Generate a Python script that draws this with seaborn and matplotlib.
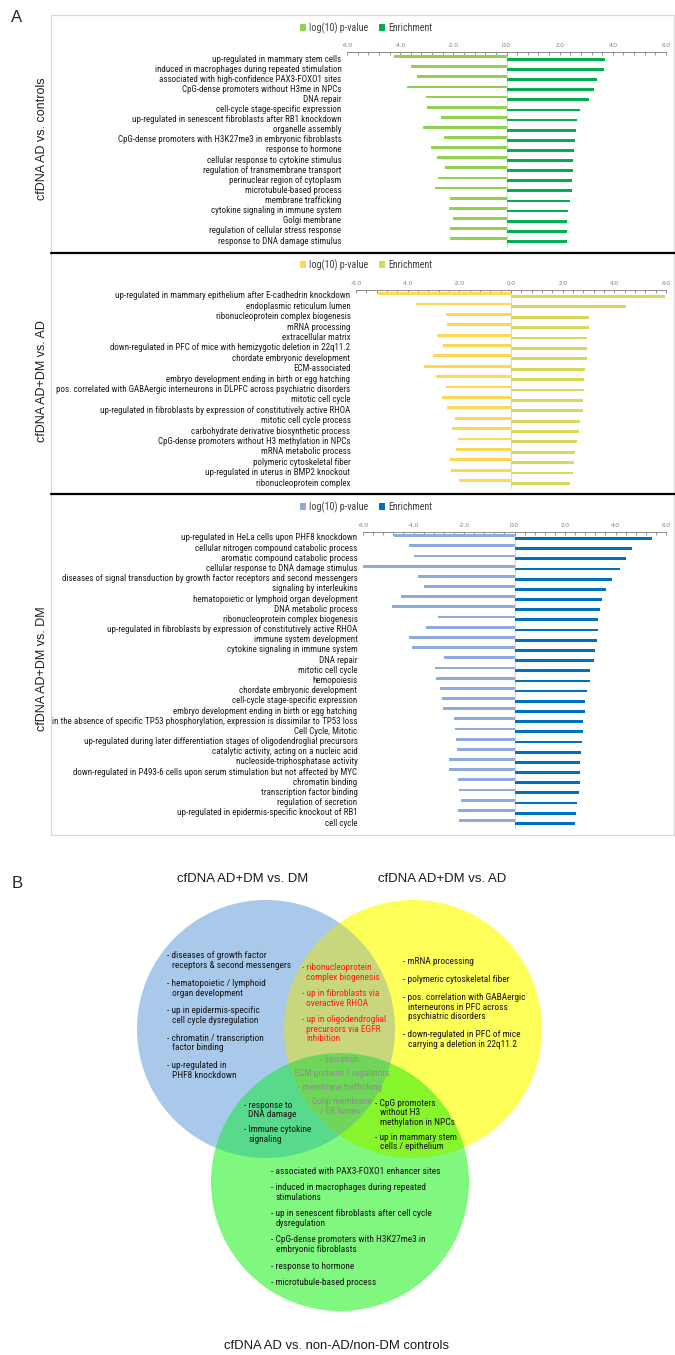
import matplotlib
matplotlib.use("Agg")
import matplotlib.pyplot as plt
import numpy as np
import pandas as pd
import seaborn as sns
from matplotlib import font_manager
from matplotlib.font_manager import FontProperties
from matplotlib.patches import Rectangle
from matplotlib.lines import Line2D
from matplotlib.ticker import MultipleLocator, FormatStrFormatter

# ---------------------------------------------------------------- data
LOGP = "log(10) p-value"
ENR = "Enrichment"

ctrl_terms = [
    "up-regulated in mammary stem cells",
    "induced in macrophages during repeated stimulation",
    "associated with high-confidence PAX3-FOXO1 sites",
    "CpG-dense promoters without H3me in NPCs",
    "DNA repair",
    "cell-cycle stage-specific expression",
    "up-regulated in senescent fibroblasts after RB1 knockdown",
    "organelle assembly",
    "CpG-dense promoters with H3K27me3 in embryonic fibroblasts",
    "response to hormone",
    "cellular response to cytokine stimulus",
    "regulation of transmembrane transport",
    "perinuclear region of cytoplasm",
    "microtubule-based process",
    "membrane trafficking",
    "cytokine signaling in immune system",
    "Golgi membrane",
    "regulation of cellular stress response",
    "response to DNA damage stimulus",
]
ctrl_logp = [-4.23, -3.61, -3.36, -3.73, -3.01, -2.99, -2.48, -3.15, -2.36, -2.85,
             -2.62, -2.30, -2.56, -2.69, -2.13, -2.16, -2.00, -2.13, -2.13]
ctrl_enrich = [3.70, 3.65, 3.41, 3.30, 3.10, 2.75, 2.66, 2.61, 2.56, 2.55,
               2.51, 2.50, 2.47, 2.45, 2.37, 2.30, 2.27, 2.27, 2.26]

ad_terms = [
    "up-regulated in mammary epithelium after E-cadhedrin knockdown",
    "endoplasmic reticulum lumen",
    "ribonucleoprotein complex biogenesis",
    "mRNA processing",
    "extracellular matrix",
    "down-regulated in PFC of mice with hemizygotic deletion in 22q11.2",
    "chordate embryonic development",
    "ECM-associated",
    "embryo development ending in birth or egg hatching",
    "pos. correlated with GABAergic interneurons in DLPFC across psychiatric disorders",
    "mitotic cell cycle",
    "up-regulated in fibroblasts by expression of constitutively active RHOA",
    "mitotic cell cycle process",
    "carbohydrate derivative biosynthetic process",
    "CpG-dense promoters without H3 methylation in NPCs",
    "mRNA metabolic process",
    "polymeric cytoskeletal fiber",
    "up-regulated in uterus in BMP2 knockout",
    "ribonucleoprotein complex",
]
ad_logp = [-5.13, -3.67, -2.50, -2.47, -2.87, -2.62, -3.03, -3.38, -2.91, -2.50,
           -2.68, -2.47, -2.18, -2.29, -2.04, -2.14, -2.36, -2.32, -2.02]
ad_enrich = [5.98, 4.46, 3.03, 3.00, 2.96, 2.94, 2.93, 2.87, 2.82, 2.81,
             2.80, 2.80, 2.69, 2.63, 2.56, 2.49, 2.42, 2.40, 2.28]

dm_terms = [
    "up-regulated in HeLa cells upon PHF8 knockdown",
    "cellular nitrogen compound catabolic process",
    "aromatic compound catabolic process",
    "cellular response to DNA damage stimulus",
    "diseases of signal transduction by growth factor receptors and second messengers",
    "signaling by interleukins",
    "hematopoietic or lymphoid organ development",
    "DNA metabolic process",
    "ribonucleoprotein complex biogenesis",
    "up-regulated in fibroblasts by expression of constitutively active RHOA",
    "immune system development",
    "cytokine signaling in immune system",
    "DNA repair",
    "mitotic cell cycle",
    "hemopoiesis",
    "chordate embryonic development",
    "cell-cycle stage-specific expression",
    "embryo development ending in birth or egg hatching",
    "in the absence of specific TP53 phosphorylation, expression is dissimilar to TP53 loss",
    "Cell Cycle, Mitotic",
    "up-regulated during later differentiation stages of oligodendroglial precursors",
    "catalytic activity, acting on a nucleic acid",
    "nucleoside-triphosphatase activity",
    "down-regulated in P493-6 cells upon serum stimulation but not affected by MYC",
    "chromatin binding",
    "transcription factor binding",
    "regulation of secretion",
    "up-regulated in epidermis-specific knockout of RB1",
    "cell cycle",
]
dm_logp = [-4.78, -4.19, -4.00, -6.00, -3.83, -3.57, -4.48, -4.86, -3.01, -3.49,
           -4.17, -4.06, -2.81, -3.13, -3.12, -2.97, -2.88, -2.84, -2.40, -2.36,
           -2.31, -2.29, -2.60, -2.59, -2.25, -2.19, -2.11, -2.22, -2.18]
dm_enrich = [5.46, 4.64, 4.41, 4.19, 3.86, 3.62, 3.47, 3.38, 3.32, 3.30,
             3.25, 3.17, 3.13, 3.00, 3.00, 2.88, 2.80, 2.79, 2.73, 2.71,
             2.66, 2.63, 2.60, 2.59, 2.59, 2.54, 2.47, 2.43, 2.40]

panel_titles = ["cfDNA AD vs. controls", "cfDNA AD+DM vs. AD", "cfDNA AD+DM vs. DM"]

venn_titles = ["cfDNA AD+DM vs. DM", "cfDNA AD+DM vs. AD",
               "cfDNA AD vs. non-AD/non-DM controls"]

# Venn region texts: each item is a list of lines
dm_only = [["diseases of growth factor", "receptors & second messengers"],
           ["hematopoietic / lymphoid", "organ development"],
           ["up in epidermis-specific", "cell cycle dysregulation"],
           ["chromatin / transcription", "factor binding"],
           ["up-regulated in", "PHF8 knockdown"]]
dm_ad = [["ribonucleoprotein", "complex biogenesis"],
         ["up in fibroblasts via", "overactive RHOA"],
         ["up in oligodendroglial", "precursors via EGFR", "inhibition"]]
ad_only = [["mRNA processing"],
           ["polymeric cytoskeletal fiber"],
           ["pos. correlation with GABAergic", "interneurons in PFC across",
            "psychiatric disorders"],
           ["down-regulated in PFC of mice", "carrying a deletion in 22q11.2"]]
all_three = ["- secretion", "- ECM proteins / regulators", "- membrane trafficking",
             "- Golgi membrane", "/ ER lumen"]
dm_ctrl = [["response to", "DNA damage"], ["Immune cytokine", "signaling"]]
ad_ctrl = [["CpG promoters", "without H3", "methylation in NPCs"],
           ["up in mammary stem", "cells / epithelium"]]
ctrl_only = [["associated with PAX3-FOXO1 enhancer sites"],
             ["induced in macrophages during repeated", "stimulations"],
             ["up in senescent fibroblasts after cell cycle", "dysregulation"],
             ["CpG-dense promoters with H3K27me3 in", "embryonic fibroblasts"],
             ["response to hormone"],
             ["microtubule-based process"]]

# ---------------------------------------------------------------- fonts
sns.set_theme(style="white")
ttf = font_manager.fontManager.ttflist
names = {f.name for f in ttf}
ARIAL = "Liberation Sans" if "Liberation Sans" in names else "DejaVu Sans"
plt.rcParams["font.family"] = [ARIAL, "DejaVu Sans"]


def find_narrow_file():
    for pref in ["Liberation Sans Narrow", "Arial Narrow", "Roboto Condensed",
                 "Open Sans Condensed"]:
        for f in ttf:
            if f.name == pref and f.style == "normal" and f.weight in (400, "normal", "regular"):
                return f.fname
    for f in ttf:
        base = f.fname.split("/")[-1]
        if (("Condensed" in base or "Narrow" in base) and "Bold" not in base
                and "Oblique" not in base and "Italic" not in base
                and "Mono" not in base and "Serif" not in base
                and "Light" not in base and "ExtraLight" not in base):
            return f.fname
    return None


_narrow = find_narrow_file()


def narrow(size):
    fp = FontProperties(fname=_narrow) if _narrow else FontProperties(family=ARIAL)
    fp.set_size(size)
    return fp


def arial(size):
    return FontProperties(family=ARIAL, size=size)


W, H = 675, 1355
fig = plt.figure(figsize=(W / 100, H / 100), dpi=100)
fig.patch.set_facecolor("white")

# full-figure canvas in pixel units for frames, panel letters and the Venn diagram
canvas = fig.add_axes([0, 0, 1, 1])
canvas.set_xlim(0, W)
canvas.set_ylim(H, 0)
canvas.axis("off")
renderer = fig.canvas.get_renderer()


def fit_size(text, target_px, maker, ref=10.0):
    t = canvas.text(0, 0, text, fontproperties=maker(ref))
    w = t.get_window_extent(renderer=renderer).width
    t.remove()
    return ref * target_px / w


label_fs = fit_size(dm_terms[4], 294, narrow)
legend_fs = fit_size(LOGP, 59, narrow)
ylab_fs = fit_size(panel_titles[0], 123, arial)
venn_fs = fit_size("- associated with PAX3-FOXO1 enhancer sites", 169, narrow)
vtitle_fs = fit_size(venn_titles[1], 128, arial)
btitle_fs = fit_size(venn_titles[2], 225, arial)

# panel A frame and separators
canvas.add_patch(Rectangle((51, 15), 623, 820, fill=False, ec="#d9d9d9", lw=0.9))
for ysep in (253, 494):
    canvas.add_line(Line2D([51, 675], [ysep, ysep], color="black", lw=1.6))
canvas.text(17, 17, "A", fontproperties=arial(12), ha="center", va="center")
canvas.text(17, 883, "B", fontproperties=arial(12), ha="center", va="center")


def bar_panel(terms, logp, enrich, colors, left, right, top, first, last,
              bottom, legend_y, title, title_y):
    n = len(terms)
    step = (last - first) / (n - 1)
    ax = fig.add_axes([left / W, 1 - bottom / H, (right - left) / W, (bottom - top) / H])
    ax.patch.set_alpha(0)
    df = pd.DataFrame({
        "term": list(terms) * 2,
        "value": list(logp) + list(enrich),
        "series": [LOGP] * n + [ENR] * n,
    })
    sns.barplot(data=df, x="value", y="term", hue="series", orient="h",
                order=terms, hue_order=[LOGP, ENR], palette=colors,
                width=0.55, saturation=1, linewidth=0, ax=ax)
    ax.axvline(0, color="#d9d9d9", lw=0.8, zorder=0)
    ax.set_xlim(-6, 6)
    ax.set_ylim(n - 1 + (bottom - last) / step, -(first - top) / step)
    ax.set_xlabel("")
    ax.set_ylabel("")
    ax.set_yticks(range(n))
    ax.set_yticklabels(terms, fontproperties=narrow(label_fs), color="#1e1e1e")
    ax.xaxis.tick_top()
    ax.xaxis.set_major_locator(MultipleLocator(2))
    ax.xaxis.set_minor_locator(MultipleLocator(0.4))
    ax.xaxis.set_major_formatter(FormatStrFormatter("%.1f"))
    ax.tick_params(axis="x", which="both", direction="in", color="#7f7f7f",
                   width=0.6, top=True, bottom=False)
    ax.tick_params(axis="x", which="major", length=2.5, labelsize=4.6,
                   labelcolor="#7f7f7f", pad=3)
    ax.tick_params(axis="x", which="minor", length=2.0)
    ax.tick_params(axis="y", length=0, pad=4)
    for side in ("left", "right", "bottom"):
        ax.spines[side].set_visible(False)
    ax.spines["top"].set_color("#8c8c8c")
    ax.spines["top"].set_linewidth(0.7)
    sns.move_legend(ax, "center", bbox_to_anchor=(366 / W, 1 - legend_y / H),
                    bbox_transform=fig.transFigure, ncol=2, frameon=False,
                    title=None, prop=narrow(legend_fs), handlelength=0.6,
                    handleheight=0.6, handletextpad=0.35, columnspacing=1.0)
    for txt in ax.get_legend().get_texts():
        txt.set_color("#404040")
    canvas.text(42, title_y, title, rotation=90, ha="center", va="center",
                fontproperties=arial(ylab_fs), color="#1e1e1e")
    return ax


bar_panel(ctrl_terms, ctrl_logp, ctrl_enrich, ["#92d050", "#00b050"],
          347, 666, 52, 58, 240, 248, 28, panel_titles[0], 139)
bar_panel(ad_terms, ad_logp, ad_enrich, ["#ffd757", "#d6d95b"],
          356, 666, 290, 295, 482, 489, 265, panel_titles[1], 381)
bar_panel(dm_terms, dm_logp, dm_enrich, ["#8faadc", "#0070c0"],
          363, 666, 532, 537, 822, 829, 507, panel_titles[2], 669)

# ---------------------------------------------------------------- Venn diagram
# three circles painted region by region (supersampled for smooth edges)
R = 129
centers = {"dm": (266, 1029), "ad": (413, 1029), "ctrl": (340, 1182)}
region_rgb = np.array([
    (255, 255, 255),   # outside
    (169, 201, 235),   # DM only
    (255, 255, 90),    # AD only
    (200, 214, 126),   # DM & AD
    (128, 248, 128),   # controls only
    (88, 218, 140),    # DM & controls
    (135, 245, 45),    # AD & controls
    (112, 214, 92),    # all three
], dtype=float) / 255.0

bx0, bx1, by0, by1 = 120, 560, 885, 1325
ss = 4
xs = bx0 + (np.arange((bx1 - bx0) * ss) + 0.5) / ss
ys = by0 + (np.arange((by1 - by0) * ss) + 0.5) / ss
X, Y = np.meshgrid(xs, ys)
code = np.zeros(X.shape, dtype=int)
for bit, key in ((1, "dm"), (2, "ad"), (4, "ctrl")):
    cx, cy = centers[key]
    code += bit * (((X - cx) ** 2 + (Y - cy) ** 2) <= R ** 2)
img = region_rgb[code]
img = img.reshape(by1 - by0, ss, bx1 - bx0, ss, 3).mean(axis=(1, 3))
canvas.imshow(img, extent=(bx0, bx1, by1, by0), origin="upper",
              interpolation="nearest", aspect="auto", zorder=0)
canvas.set_xlim(0, W)
canvas.set_ylim(H, 0)

canvas.text(243, 879, venn_titles[0], ha="center", va="center",
            fontproperties=arial(vtitle_fs), color="#1a1a1a")
canvas.text(442, 879, venn_titles[1], ha="center", va="center",
            fontproperties=arial(vtitle_fs), color="#1a1a1a")
canvas.text(337, 1346, venn_titles[2], ha="center", va="center",
            fontproperties=arial(btitle_fs), color="#1a1a1a")


def bullet_block(items, x, y0, color, line_h=9.6, gap=8.2, indent=4.5):
    y = y0
    for lines in items:
        for k, line in enumerate(lines):
            if k == 0:
                canvas.text(x, y, "- " + line, ha="left", va="center",
                            fontproperties=narrow(venn_fs), color=color, zorder=3)
            else:
                canvas.text(x + indent, y, line, ha="left", va="center",
                            fontproperties=narrow(venn_fs), color=color, zorder=3)
            y += line_h
        y += gap


bullet_block(dm_only, 167, 956, "#141414")
bullet_block(dm_ad, 302, 968, "#ff1a1a", gap=6.5)
bullet_block(ad_only, 403, 962, "#141414")
for txt, yy in zip(all_three, [1060, 1073.5, 1087, 1102, 1112]):
    canvas.text(340, yy, txt, ha="center", va="center",
                fontproperties=narrow(venn_fs), color="#8e8e8e", zorder=3)
bullet_block(dm_ctrl, 244, 1105, "#141414", gap=5.5)
bullet_block(ad_ctrl, 375, 1103, "#141414", gap=5.5)
bullet_block(ctrl_only, 271, 1171, "#141414", gap=7.0)

fig.savefig("out.png", dpi=100, facecolor="white")
